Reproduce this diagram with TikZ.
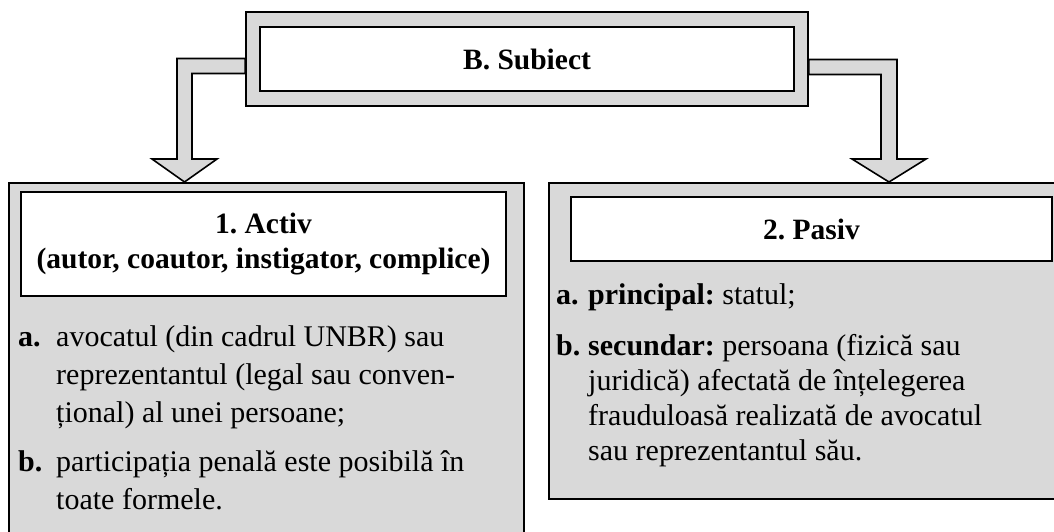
\documentclass[tikz,border=0pt]{standalone}
\usepackage{fontspec}
\setmainfont{Liberation Serif}
\usetikzlibrary{positioning,calc}
\definecolor{boxgray}{HTML}{D9D9D9}
\newcommand{\itemlines}[1]{\begin{tabular}[t]{@{}l@{}}#1\end{tabular}}
\frenchspacing
\tikzset{
  frame/.style={draw=black, fill=boxgray, line width=1.6pt, inner sep=0pt},
  titlebox/.style={draw=black, fill=white, line width=1.6pt, inner sep=0pt, align=center, font=\fontsize{29.5}{35}\selectfont\bfseries},
  blockarrow/.style={draw=black, fill=boxgray, line width=1.6pt, line join=miter},
  itemlabel/.style={anchor=base west, inner sep=0pt, font=\fontsize{30}{38}\selectfont\bfseries},
  itemtext/.style={anchor=base west, inner sep=0pt},
}

\begin{document}
\begin{tikzpicture}[x=1pt,y=-1pt]

        \clip (0,0) rectangle (1054,532);

        % B. Subiect
        \node [frame, minimum width=562pt, minimum height=94pt] (subjframe) at (527,59) {};
        \node [titlebox, minimum width=534pt, minimum height=64pt] (subj) at (527,59) {B. Subiect};

        % 1. Activ
        \node [frame, minimum width=515pt, minimum height=370pt, anchor=north west] (actframe) at (8,182) {};
        \node [titlebox, minimum width=485pt, minimum height=104pt] (act) at (263.5,244) {1. Activ\\(autor, coautor, instigator, complice)};

        \node [itemlabel] (acta) at (18,346) {a.};
        \node [itemtext, font=\fontsize{30}{38}\selectfont] (actatext) at (56,346) {\itemlines{avocatul (din cadrul UNBR) sau\\reprezentantul (legal sau conven-\\țional) al unei persoane;}};
        \node [itemlabel] (actb) at (18,471) {b.};
        \node [itemtext, font=\fontsize{30}{38}\selectfont] (actbtext) at (56,471) {\itemlines{participația penală este posibilă în\\toate formele.}};

        % 2. Pasiv
        \node [frame, minimum width=530pt, minimum height=316pt, anchor=north west] (pasframe) at (548,182) {};
        \node [titlebox, minimum width=481pt, minimum height=64pt] (pas) at (811.5,229) {2. Pasiv};

        \node [itemlabel] (pasa) at (556,304) {a.};
        \node [itemtext, font=\fontsize{30}{35}\selectfont] (pasatext) at (588,304) {\textbf{principal:} statul;};
        \node [itemlabel] (pasb) at (556,355) {b.};
        \node [itemtext, font=\fontsize{30}{35}\selectfont] (pasbtext) at (588,355) {\itemlines{\textbf{secundar:} persoana (fizică sau\\juridică) afectată de înțelegerea\\frauduloasă realizată de avocatul\\sau reprezentantul său.}};

        % arrows
        \coordinate (ltip) at (actframe.north -| 184.5,0);
        \draw [blockarrow] (subjframe.west |- 0,58.5) -- (177,58.5) -- (177,159) -- (152,159) -- (ltip)
              -- (217,159) -- (192,159) -- (192,73.5) -- (subjframe.west |- 0,73.5) -- cycle;

        \coordinate (rtip) at (pasframe.north -| 889,0);
        \draw [blockarrow] (subjframe.east |- 0,59.5) -- (897,59.5) -- (897,159) -- (926,159) -- (rtip)
              -- (852,159) -- (881,159) -- (881,74.5) -- (subjframe.east |- 0,74.5) -- cycle;

\end{tikzpicture}
\end{document}
